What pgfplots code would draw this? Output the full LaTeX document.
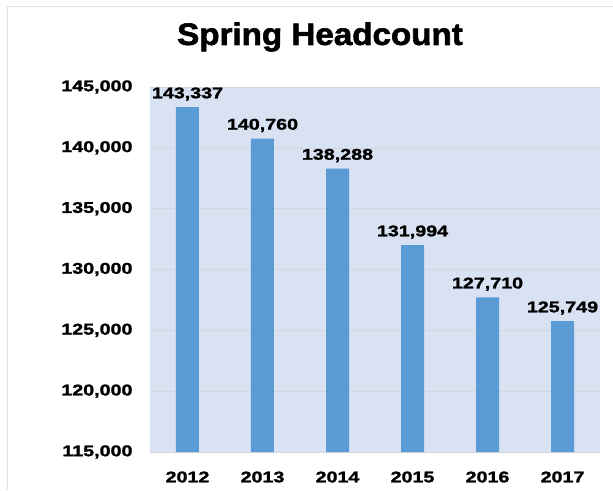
\documentclass[border=0pt]{standalone}
\usepackage{fontspec}
\setmainfont{Liberation Sans}
\newfontfamily\tickf[FakeStretch=1.27,FakeBold=1.6]{Liberation Sans}
\newfontfamily\titlef[FakeStretch=1.07,FakeBold=2]{Liberation Sans}
\usepackage{pgfplots}
\pgfplotsset{compat=1.18}
\definecolor{barblue}{HTML}{5B9BD5}
\definecolor{plotbg}{HTML}{D9E2F3}
\definecolor{gridc}{HTML}{D3D6DA}
\begin{document}
\begin{tikzpicture}
\useasboundingbox (-150pt,-38pt) rectangle (463pt,452pt);
\draw[gray!22, line width=0.8pt] (-143pt,-38pt) -- (-143pt,446pt) -- (463pt,446pt);
\begin{axis}[
  at={(0pt,0pt)}, anchor=south west,
  scale only axis, width=450pt, height=365pt,
  xmin=-0.5, xmax=5.5, ymin=115000, ymax=145000,
  axis background/.style={fill=plotbg},
  axis line style={draw=none},
  ytick={115000,120000,125000,130000,135000,140000,145000},
  xtick={0,1,2,3,4,5},
  xticklabels={2012,2013,2014,2015,2016,2017},
  major tick length=0pt,
  ymajorgrids, grid style={gridc, line width=0.5pt},
  /pgf/number format/assume math mode=true,
  /pgf/number format/.cd, fixed, 1000 sep={,}, /pgfplots/.cd,
  scaled y ticks=false,
  tick label style={font=\tickf\bfseries\fontsize{15.5}{16}\selectfont},
  yticklabel style={xshift=-14pt},
  xticklabel style={yshift=-16pt},
  ybar, bar width=23pt,
  nodes near coords,
  every node near coord/.append style={font=\tickf\bfseries\fontsize{15.5}{16}\selectfont, text=black, yshift=3pt},
  clip=false,
]
\addplot[fill=barblue, draw=none] coordinates {
(0,143337) (1,140760) (2,138288) (3,131994) (4,127710) (5,125749)};
\end{axis}
\node[font=\titlef\bfseries\fontsize{31}{34}\selectfont] at (170pt,415pt) {Spring Headcount};
\end{tikzpicture}
\end{document}
